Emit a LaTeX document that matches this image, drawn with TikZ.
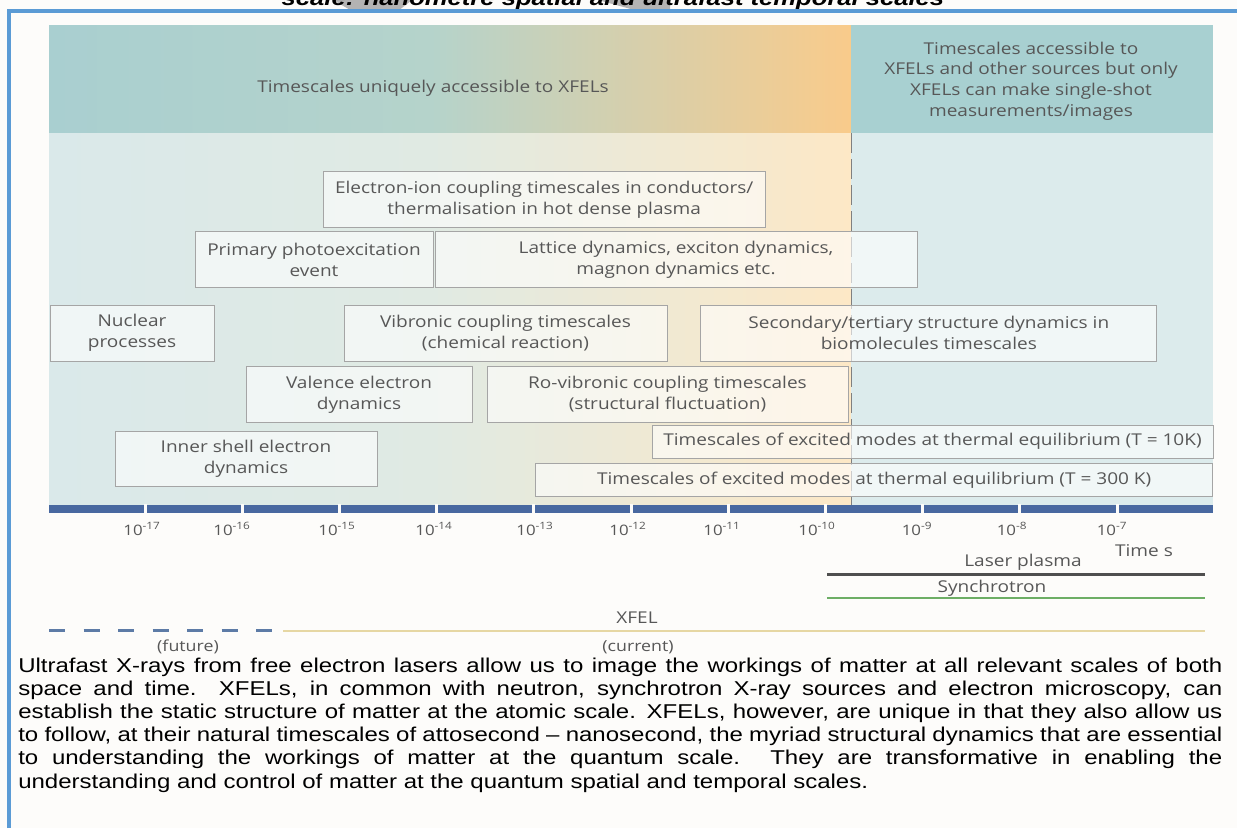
\documentclass[tikz,border=0pt]{standalone}
\usepackage{fontspec}
\setmainfont{Liberation Sans}
\newfontfamily\chartfont[FakeStretch=1.17]{Open Sans}
\newfontfamily\capfont[FakeStretch=1.2, Ligatures=TeX]{Liberation Sans}
\usetikzlibrary{positioning}

\newcommand{\pxu}{0.75pt}
\definecolor{paper}{HTML}{FDFCFA}
\definecolor{framebl}{HTML}{5B9BD5}
\definecolor{greyband}{HTML}{B3B3B3}
\definecolor{tealtop}{HTML}{A9CFD0}
\definecolor{tealmid}{HTML}{B5D3CB}
\definecolor{orangetop}{HTML}{F9CB8B}
\definecolor{teallow}{HTML}{DAE9EA}
\definecolor{teallowmid}{HTML}{E0EAE3}
\definecolor{orangelow}{HTML}{FDE8C6}
\definecolor{tealright}{HTML}{A8D0D1}
\definecolor{paleright}{HTML}{DCEBEC}
\definecolor{axisbl}{HTML}{4868A0}
\definecolor{inkgray}{HTML}{575757}
\definecolor{boxline}{HTML}{A5A5A5}
\definecolor{plasmagray}{HTML}{4F4F4F}
\definecolor{synchgreen}{HTML}{6DAE65}
\definecolor{xfelbeige}{HTML}{E6D7A3}
\definecolor{futureblue}{HTML}{5D7BA6}

\begin{document}
\begin{tikzpicture}[x=0.75pt, y=-0.75pt,
    tbox/.style={draw=boxline, line width=0.75pt, fill=white, fill opacity=0.6,
        text opacity=1, text=inkgray, align=center, inner sep=0pt,
        font=\chartfont\fontsize{12.2}{15.75}\selectfont},
    bandtext/.style={text=inkgray, align=center,
        font=\chartfont\fontsize{12.2}{15.5}\selectfont},
    ticklbl/.style={text=inkgray, font=\chartfont\fontsize{10.8}{12}\selectfont},
    srclbl/.style={text=inkgray, font=\chartfont\fontsize{12.2}{14}\selectfont},
    eralbl/.style={text=inkgray, font=\chartfont\fontsize{11.4}{13}\selectfont},
    srcline/.style={line width=2.25pt}]
  \useasboundingbox (0,0) rectangle (1237,828);
  \clip (0,0) rectangle (1237,828);
  \fill[paper] (0,0) rectangle (1237,828);

  % cut-off heading
  \fill[greyband] (333,0) -- (412,0) -- (398,11) -- (352,11) -- cycle;
  \fill[greyband] (598,0) -- (670,0) -- (670,11) -- (638,11) -- cycle;
  \node[anchor=base, font=\capfont\bfseries\itshape\fontsize{16}{18}\selectfont]
    (ttl) at (613,6) {scale: nanometre spatial and ultrafast temporal scales};
  \draw[framebl, line width=2.6pt] (9,828) -- (9,11) -- (1237,11);

  % background regions
  \shade[left color=tealtop, right color=tealmid] (49,25) rectangle (430,133);
  \shade[left color=tealmid, right color=orangetop] (430,25) rectangle (851,133);
  \fill[tealright] (851,25) rectangle (1213,133);
  \shade[left color=teallow, right color=teallowmid] (49,133) rectangle (430,505);
  \shade[left color=teallowmid, right color=orangelow] (430,133) rectangle (851,505);
  \fill[paleright] (851,133) rectangle (1213,505);

  \node[bandtext] (uniq) at (433,88) {Timescales uniquely accessible to XFELs};
  \node[bandtext] (other) at (1031,81) {Timescales accessible to\\
    XFELs and other sources but only\\XFELs can make single-shot\\measurements/images};

  \coordinate (divtop) at (851,133);
  \coordinate (divbot) at (851,505);
  \draw[gray, line width=0.75pt, dash pattern=on 15pt off 4.5pt] (divtop) -- (divbot);

  % timescale boxes
  \node[tbox, minimum width=442*\pxu, minimum height=56*\pxu] (elec) at (544.2,199.5)
    {Electron-ion coupling timescales in conductors/\\thermalisation in hot dense plasma};
  \node[tbox, minimum width=238*\pxu, minimum height=56*\pxu] (prim) at (314,259.5)
    {Primary photoexcitation\\event};
  \node[tbox, minimum width=482*\pxu, minimum height=56*\pxu] (latt) at (676,259.5)
    {Lattice dynamics, exciton dynamics,\\magnon dynamics etc.};
  \node[tbox, minimum width=164*\pxu, minimum height=56*\pxu] (nucl) at (132,333)
    {Nuclear\\processes};
  \node[tbox, minimum width=323*\pxu, minimum height=56*\pxu] (vibr) at (505.5,333)
    {Vibronic coupling timescales\\(chemical reaction)};
  \node[tbox, minimum width=456*\pxu, minimum height=56*\pxu] (secd) at (928.8,333)
    {Secondary/tertiary structure dynamics in\\biomolecules timescales};
  \node[tbox, minimum width=226*\pxu, minimum height=56*\pxu] (vale) at (359,394.5)
    {Valence electron\\dynamics};
  \node[tbox, minimum width=361*\pxu, minimum height=56*\pxu] (rovi) at (667.5,394.5)
    {Ro-vibronic coupling timescales\\(structural fluctuation)};
  \node[tbox, minimum width=262*\pxu, minimum height=55*\pxu] (innr) at (246,459.2)
    {Inner shell electron\\dynamics};
  \node[tbox, minimum width=561*\pxu, minimum height=33*\pxu] (tenk) at (932.5,441.7)
    {Timescales of excited modes at thermal equilibrium (T = 10K)};
  \node[tbox, minimum width=677.5*\pxu, minimum height=33*\pxu] (room) at (874.2,480.3)
    {Timescales of excited modes at thermal equilibrium (T = 300 K)};

  % time axis
  \fill[axisbl] (49,505) rectangle (1213,513);
  \foreach \k in {0,...,10}
    \fill[paper] ({143.5+97.2*\k},504) rectangle +(3,10);
  \foreach \x/\e in {142/17, 232/16, 337/15, 434/14, 535/13, 628/12,
      722/11, 817/10, 917/9, 1012/8, 1112/7}
    \node[ticklbl] (tick\e) at (\x,529) {10\textsuperscript{-\e}};
  \node[srclbl] (tims) at (1144,551) {Time s};

  % sources
  \node[srclbl] (lasr) at (1023,562) {Laser plasma};
  \coordinate (lasrA) at (827,574.3);
  \coordinate (lasrB) at (1205,574.3);
  \draw[srcline, plasmagray] (lasrA) -- (lasrB);
  \node[srclbl] (sync) at (992,588) {Synchrotron};
  \coordinate (syncA) at (827,597.7);
  \coordinate (syncB) at (1205,597.7);
  \draw[srcline, synchgreen, line width=1.6pt] (syncA) -- (syncB);
  \node[srclbl] (xfel) at (637,618) {XFEL};
  \coordinate (futA) at (49,630.7);
  \coordinate (futB) at (280,630.7);
  \coordinate (curB) at (1205,630.7);
  \draw[srcline, futureblue, dash pattern=on 12pt off 13.9pt] (futA) -- (futB);
  \draw[xfelbeige, line width=1.6pt] (283,630.7) -- (curB);
  \node[eralbl] (futr) at (188,647) {(future)};
  \node[eralbl] (curr) at (638,647) {(current)};

  % caption
  \node[anchor=base west, inner sep=0pt] (capt) at (18,672) {\parbox[t]{903pt}{%
    \capfont\fontsize{15}{17.4}\selectfont
    Ultrafast X-rays from free electron lasers allow us to image the workings of matter at all relevant scales of both\linebreak
    space and time. XFELs, in common with neutron, synchrotron X-ray sources and electron microscopy, can\linebreak
    establish the static structure of matter at the atomic scale. XFELs, however, are unique in that they also allow us\linebreak
    to follow, at their natural timescales of attosecond – nanosecond, the myriad structural dynamics that are essential\linebreak
    to understanding the workings of matter at the quantum scale. They are transformative in enabling the\linebreak
    understanding and control of matter at the quantum spatial and temporal scales.}};
\end{tikzpicture}
\end{document}
